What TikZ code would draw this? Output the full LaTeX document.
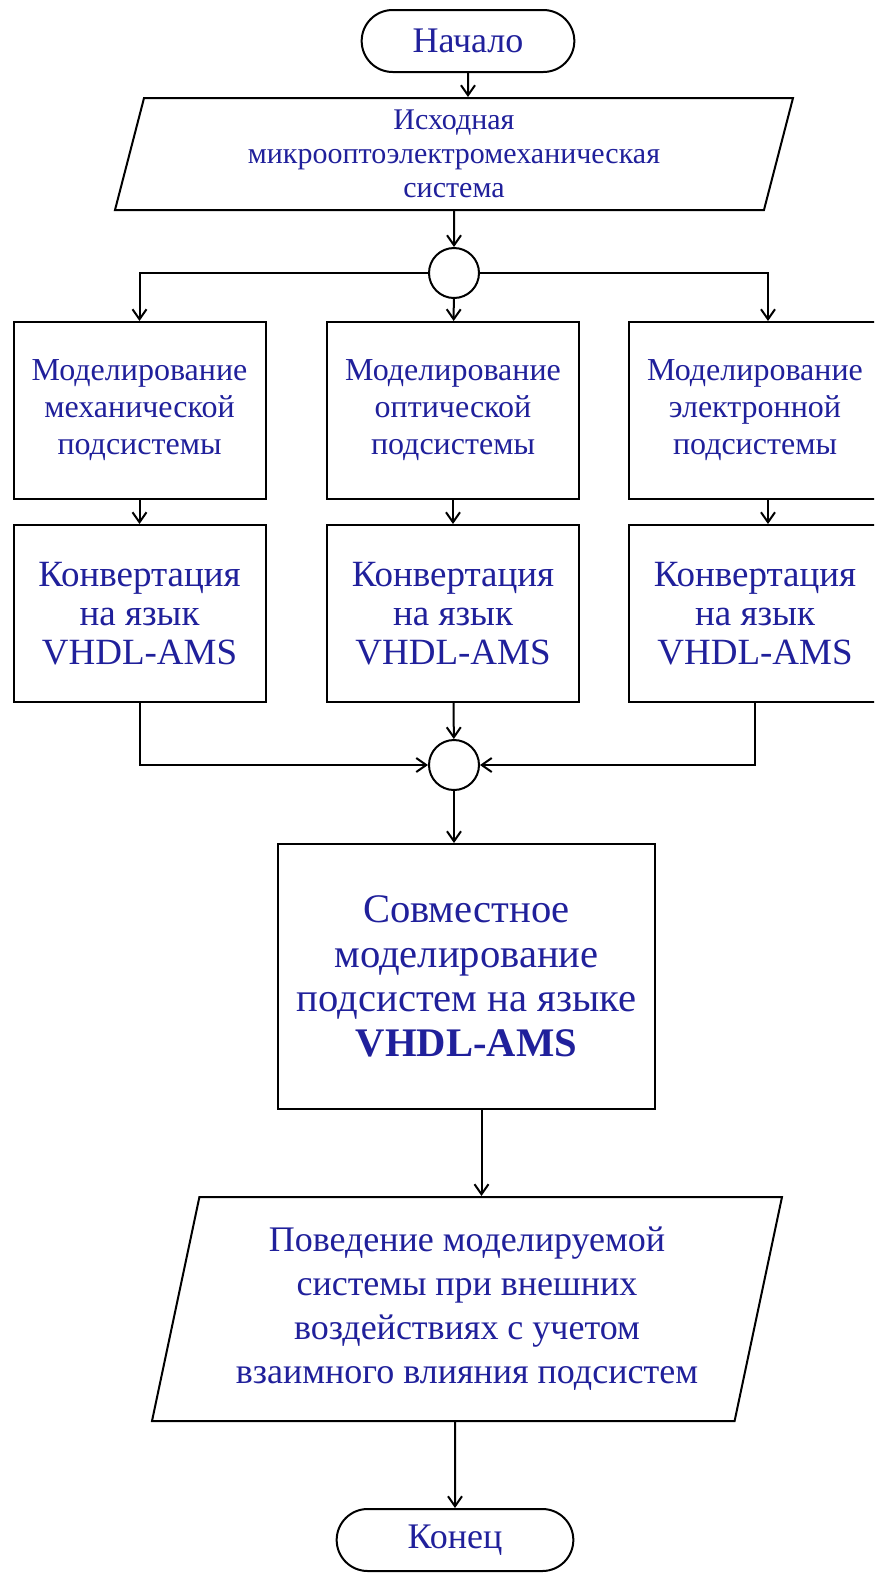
\documentclass[tikz,border=0pt]{standalone}
\usepackage{fontspec}
\setmainfont{Liberation Serif}
\usetikzlibrary{shapes.geometric,shapes.misc,arrows.meta}
\definecolor{tekst}{RGB}{32,32,155}

\begin{document}
\begin{tikzpicture}[
        x=0.5pt, y=-0.5pt,
        line width=1pt,
        >={Straight Barb[length=5pt,width=7pt]},
        every node/.style={text=tekst, align=center},
        terminal/.style={draw, rounded rectangle, minimum width=113pt, minimum height=31pt, font=\fontsize{18}{20}\selectfont},
        vvod/.style={draw, trapezium, trapezium stretches body, trapezium left angle=74, trapezium right angle=106},
        blok/.style={draw, minimum width=126pt, minimum height=88.5pt},
        uzel/.style={draw, circle, minimum size=25pt, inner sep=0pt}
    ]

    % Granitsy
    \clip (0,0) rectangle (874,1581);
    \fill[white] (0,0) rectangle (874,1581);

    % Nachalo
    \node[terminal] (nachalo) at (468,41) {Начало};
    \node[vvod, minimum width=339pt, minimum height=56pt, font=\fontsize{15}{17}\selectfont] (iskhod) at (454,154) {Исходная\\микрооптоэлектромеханическая\\система};
    \node[uzel] (uzel1) at (454,273) {};

    % Modelirovanie podsistem
    \node[blok, font=\fontsize{16}{18.5}\selectfont] (model1) at (139.5,410.5) {Моделирование\\механической\\подсистемы};
    \node[blok, font=\fontsize{16}{18.5}\selectfont] (model2) at (453,410.5) {Моделирование\\оптической\\подсистемы};
    \node[blok, font=\fontsize{16}{18.5}\selectfont] (model3) at (755,410.5) {Моделирование\\электронной\\подсистемы};

    % Konvertatsiya
    \node[blok, font=\fontsize{18.5}{19.5}\selectfont] (konv1) at (139.5,613.5) {Конвертация\\на язык\\VHDL-AMS};
    \node[blok, font=\fontsize{18.5}{19.5}\selectfont] (konv2) at (453,613.5) {Конвертация\\на язык\\VHDL-AMS};
    \node[blok, font=\fontsize{18.5}{19.5}\selectfont] (konv3) at (755,613.5) {Конвертация\\на язык\\VHDL-AMS};
    \node[uzel] (uzel2) at (454,765) {};

    % Sovmestnoe modelirovanie
    \node[blok, minimum width=188.5pt, minimum height=132.5pt, font=\fontsize{20.3}{22.3}\selectfont] (sovmest) at (466.5,976.5) {Совместное\\моделирование\\подсистем на языке\\\textbf{VHDL-AMS}};
    \node[vvod, trapezium left angle=75, trapezium right angle=105, minimum width=315pt, minimum height=112pt, font=\fontsize{18}{22}\selectfont] (povedenie) at (467,1309) {Поведение моделируемой\\системы при внешних\\воздействиях с учетом\\взаимного влияния подсистем};
    \node[terminal, minimum width=125pt] (konec) at (455,1540) {Конец};

    % Strelki
    \draw[->] (nachalo) -- (nachalo |- iskhod.north);
    \draw[->] (iskhod.south) -- (uzel1);
    \draw[->] (uzel1.west) -| (model1.north);
    \draw[->] (uzel1) -- (model2);
    \draw[->] (uzel1.east) -| ([xshift=6.5pt]model3.north);
    \draw[->] (model1) -- (konv1);
    \draw[->] (model2) -- (konv2);
    \draw[->] ([xshift=6.5pt]model3.south) -- ([xshift=6.5pt]konv3.north);
    \draw[->] (konv1.south) |- (uzel2.west);
    \draw[->] (konv2) -- (uzel2);
    \draw[->] (konv3.south) |- (uzel2.east);
    \draw[->] (uzel2) -- (uzel2 |- sovmest.north);
    \draw[->] ([xshift=7.5pt]sovmest.south) -- ([xshift=7.5pt]sovmest.south |- povedenie.north);
    \draw[->] (povedenie.south -| konec) -- (konec);
\end{tikzpicture}
\end{document}
